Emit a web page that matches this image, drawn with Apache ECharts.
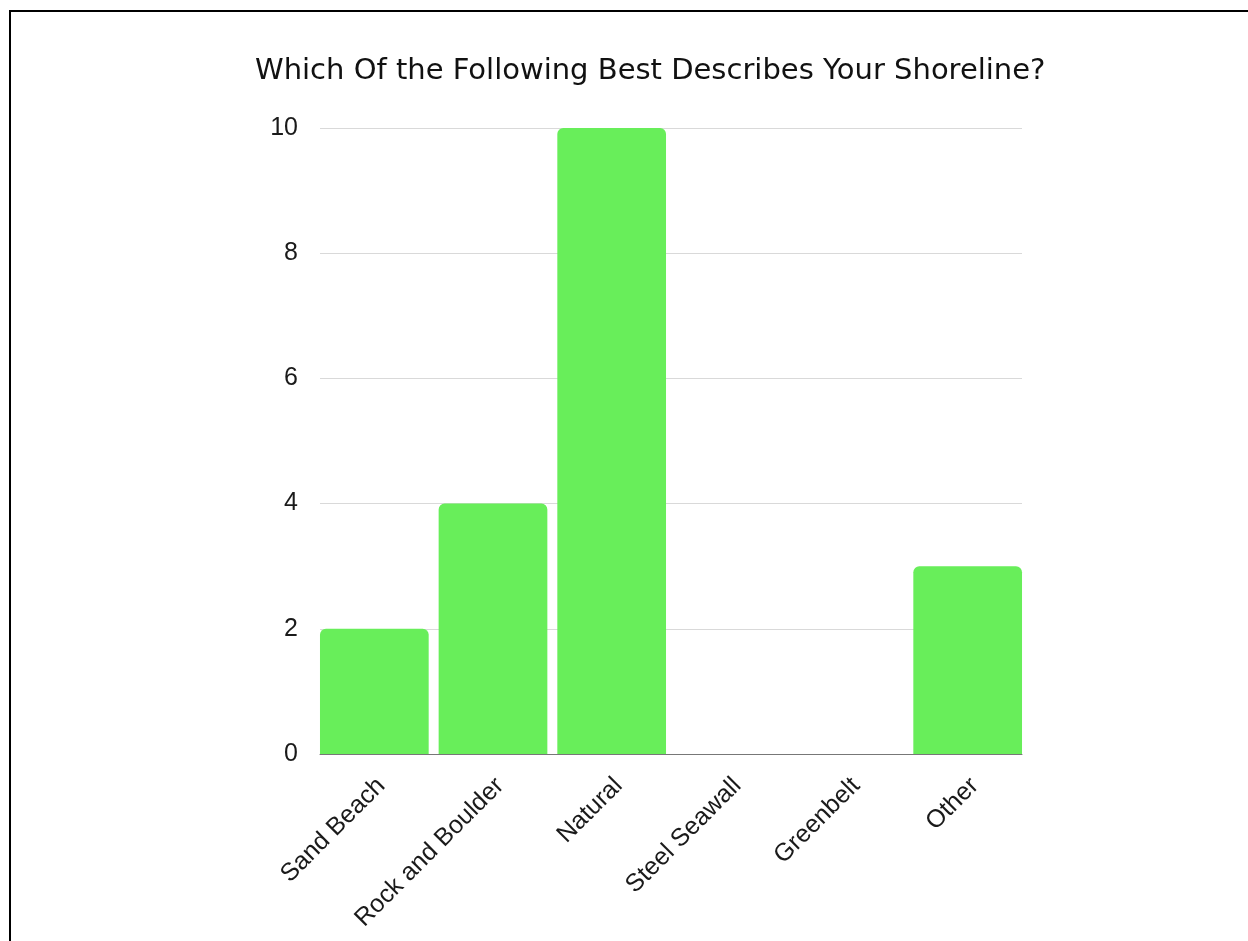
<!DOCTYPE html>
<html>
<head>
<meta charset="utf-8">
<script src="https://cdn.jsdelivr.net/npm/echarts@6/dist/echarts.min.js"></script>
<style>
  html, body { margin: 0; padding: 0; background: #fff; }
  #frame { position: absolute; left: 9px; top: 10px; width: 1239px; height: 931px;
           border-left: 2px solid #000; border-top: 2px solid #000; box-sizing: border-box; }
  #chart { position: absolute; left: 0; top: 0; width: 1248px; height: 941px; }
</style>
</head>
<body>
<div id="frame"></div>
<div id="chart"></div>
<script>
const categories = ['Sand Beach', 'Rock and Boulder', 'Natural', 'Steel Seawall', 'Greenbelt', 'Other'];
const counts = [2, 4, 10, 0, 0, 3];
const yTicks = [0, 2, 4, 6, 8, 10];

const yMin = yTicks[0];
const yMax = yTicks[yTicks.length - 1];
const labelFont = 'Liberation Sans';

const chart = echarts.init(document.getElementById('chart'), null, { renderer: 'canvas' });
chart.setOption({
  backgroundColor: 'transparent',
  animation: false,
  title: {
    text: 'Which Of the Following Best Describes Your Shoreline?',
    left: 250,
    top: 52,
    textStyle: { fontFamily: 'DejaVu Sans', fontSize: 29, fontWeight: 'normal', color: '#111' }
  },
  // grid 0: bars (band a little wider than the ruled area)
  // grid 1: value scale, gridlines and baseline
  // grid 2: category names, nudged right so they hang under each bar
  grid: [
    { left: 315, right: 221, top: 128, bottom: 187 },
    { left: 320, right: 226, top: 128, bottom: 187 },
    { left: 322, right: 214, top: 128, bottom: 187 }
  ],
  xAxis: [
    {
      type: 'category',
      gridIndex: 0,
      data: categories,
      axisTick: { show: false },
      axisLine: { show: false },
      axisLabel: { show: false }
    },
    {
      type: 'value',
      gridIndex: 1,
      min: 0, max: 1,
      axisLabel: { show: false },
      axisTick: { show: false },
      splitLine: { show: false },
      axisLine: { show: true, lineStyle: { color: '#777', width: 1 } }
    },
    {
      type: 'category',
      gridIndex: 2,
      data: categories,
      axisTick: { show: false },
      axisLine: { show: false },
      axisLabel: {
        rotate: 45, interval: 0, margin: 28,
        fontFamily: labelFont, fontSize: 25, color: '#1a1a1a'
      }
    }
  ],
  yAxis: [
    {
      type: 'value',
      gridIndex: 0,
      min: yMin, max: yMax, interval: 2,
      show: false,
      splitLine: { show: false }
    },
    {
      type: 'value',
      gridIndex: 1,
      min: yMin, max: yMax, interval: 2,
      axisLine: { show: false },
      axisTick: { show: false },
      splitLine: { lineStyle: { color: '#d9d9d9', width: 1 } },
      axisLabel: { margin: 22, fontFamily: labelFont, fontSize: 25, color: '#1a1a1a' }
    },
    {
      type: 'value',
      gridIndex: 2,
      min: yMin, max: yMax, interval: 2,
      show: false,
      splitLine: { show: false }
    }
  ],
  series: [{
    type: 'bar',
    xAxisIndex: 0,
    yAxisIndex: 0,
    data: counts,
    barCategoryGap: '8.4%',
    itemStyle: { color: '#68ee5a', borderRadius: [6, 6, 0, 0] },
    z: 5
  }]
});
</script>
</body>
</html>
